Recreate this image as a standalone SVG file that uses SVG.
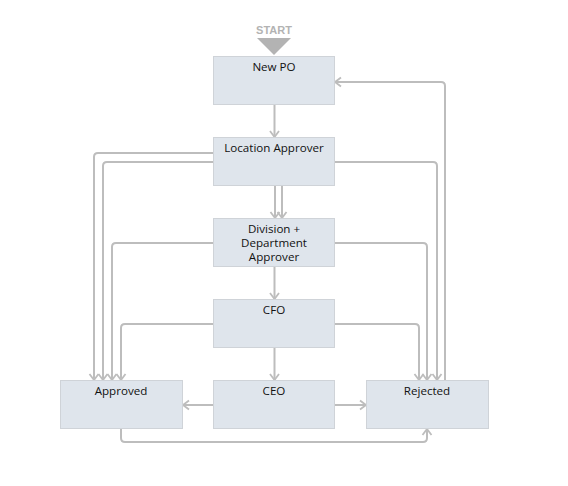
<svg xmlns="http://www.w3.org/2000/svg" width="568" height="486" viewBox="0 0 568 486">
<style>
.node rect{fill:#dfe5ec;stroke:#cfd3d8;stroke-width:1}
.node text{font-family:"Open Sans","Noto Sans",sans-serif;font-size:11.6px;fill:#111;text-anchor:middle}
.edge{fill:none;stroke:#bdbdbd;stroke-width:2;marker-end:url(#arr)}
.start{font-family:"Liberation Sans",Arial,sans-serif;font-size:11px;font-weight:bold;fill:#b3b3b3;text-anchor:middle}
</style>
<defs>
<marker id="arr" markerUnits="userSpaceOnUse" markerWidth="12" markerHeight="12" viewBox="0 0 12 12" refX="10" refY="6" orient="auto">
<path d="M4,1.5 L10,6 L4,10.5" fill="none" stroke="#bdbdbd" stroke-width="1.8"/>
</marker>
</defs>
<rect width="568" height="486" fill="#fff"/>
<g id="start">
<text class="start" x="274" y="34">START</text>
<polygon points="257,38 291,38 274,55" fill="#b3b3b3"/>
</g>
<g id="connectors">
<path class="edge" d="M274.5,105 V137"/>
<path class="edge" d="M275,186 V218"/>
<path class="edge" d="M282,186 V218"/>
<path class="edge" d="M274.5,267 V299"/>
<path class="edge" d="M274.5,348 V380"/>
<path class="edge" d="M213,153 H98 Q94,153 94,157 V380"/>
<path class="edge" d="M213,162 H107 Q103,162 103,166 V380"/>
<path class="edge" d="M213,243 H116 Q112,243 112,247 V380"/>
<path class="edge" d="M213,324 H125 Q121,324 121,328 V380"/>
<path class="edge" d="M335,162 H433 Q437,162 437,166 V380"/>
<path class="edge" d="M335,243 H423 Q427,243 427,247 V380"/>
<path class="edge" d="M335,324 H415 Q419,324 419,328 V380"/>
<path class="edge" d="M445,380 V86 Q445,82 441,82 H335"/>
<path class="edge" d="M213,405 H183"/>
<path class="edge" d="M335,405 H366"/>
<path class="edge" d="M121,429 V438 Q121,442 125,442 H423 Q427,442 427,438 V429"/>
</g>
<g id="new-po" class="node"><rect x="213.5" y="56.5" width="121" height="48"/><text x="274" y="71">New PO</text></g>
<g id="location-approver" class="node"><rect x="213.5" y="137.5" width="121" height="48"/><text x="274" y="152">Location Approver</text></g>
<g id="division-approver" class="node"><rect x="213.5" y="218.5" width="121" height="48"/><text x="274" y="233">Division +</text><text x="274" y="247">Department</text><text x="274" y="261">Approver</text></g>
<g id="cfo" class="node"><rect x="213.5" y="299.5" width="121" height="48"/><text x="274" y="314">CFO</text></g>
<g id="ceo" class="node"><rect x="213.5" y="380.5" width="121" height="48"/><text x="274" y="395">CEO</text></g>
<g id="approved" class="node"><rect x="60.5" y="380.5" width="122" height="48"/><text x="121" y="395">Approved</text></g>
<g id="rejected" class="node"><rect x="366.5" y="380.5" width="122" height="48"/><text x="427" y="395">Rejected</text></g>
</svg>
